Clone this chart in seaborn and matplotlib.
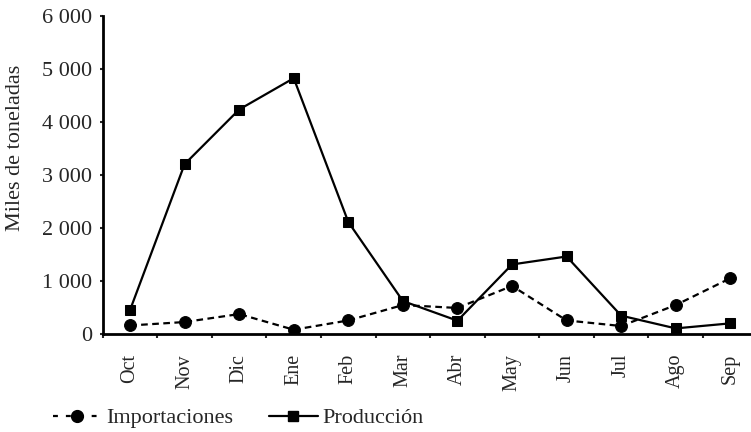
import matplotlib
matplotlib.use("Agg")
import matplotlib.pyplot as plt
import seaborn as sns
import numpy as np
from matplotlib.lines import Line2D

months = ["Oct", "Nov", "Dic", "Ene", "Feb", "Mar", "Abr", "May", "Jun", "Jul", "Ago", "Sep"]
importaciones = [170, 235, 385, 90, 265, 555, 500, 915, 265, 160, 555, 1060]
produccion = [460, 3210, 4240, 4830, 2120, 630, 260, 1320, 1470, 355, 115, 210]
y_ticks = [0, 1000, 2000, 3000, 4000, 5000, 6000]
y_labels = ["0", "1 000", "2 000", "3 000", "4 000", "5 000", "6 000"]

sns.set_style("ticks")
plt.rcParams["font.family"] = ["Liberation Serif", "DejaVu Serif"]

fig = plt.figure(figsize=(7.51, 4.32), dpi=100)
ax = fig.add_axes([0.1368, 0.2257, 0.872, 0.737])

dash = (0, (3, 2))
x = np.arange(len(months))
sns.lineplot(x=x, y=importaciones, ax=ax, color="black", linestyle=dash,
             marker="o", markersize=8.5, markeredgecolor="black", linewidth=1.6)
sns.lineplot(x=x, y=produccion, ax=ax, color="black", linestyle="-",
             marker="s", markersize=7.5, markeredgecolor="black", linewidth=1.6)

ax.set_xlim(-0.5, len(months) - 0.5)
ax.set_ylim(0, 6000)
ax.set_yticks(y_ticks)
ax.set_yticklabels(y_labels, fontsize=16)
ax.set_xticks(x)
ax.set_xticklabels(months, rotation=90, fontsize=14.5)
ax.tick_params(axis="x", which="major", length=0, pad=14)
ax.set_xticks(np.arange(len(months) + 1) - 0.5, minor=True)
ax.tick_params(axis="x", which="minor", length=3, width=1.5, direction="out")
ax.tick_params(axis="y", length=2.5, width=1.5, direction="out", pad=5)
ax.set_ylabel("Miles de toneladas", fontsize=16)
ax.yaxis.set_label_coords(-0.119, 0.586)

for side in ["top", "right"]:
    ax.spines[side].set_visible(False)
for side in ["left", "bottom"]:
    ax.spines[side].set_linewidth(2)
    ax.spines[side].set_color("black")

# legend handles: sparse dashes like the original
handles = [
    Line2D([], [], color="black", linestyle=(0, (2.2, 3.6)), marker="o", markersize=8.5, linewidth=1.6),
    Line2D([], [], color="black", linestyle="-", marker="s", markersize=7.5, linewidth=1.6),
]
fig.legend(handles, ["Importaciones", "Producción"], loc="center", ncol=2,
           bbox_to_anchor=(0.317, 0.032), frameon=False, fontsize=16,
           handlelength=2.2, handletextpad=0.2, columnspacing=1.6)

fig.savefig("out.png", dpi=100)
